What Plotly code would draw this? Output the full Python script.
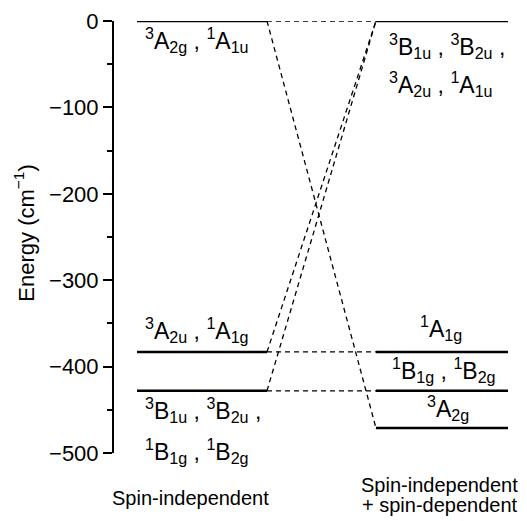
import plotly.graph_objects as go

# ---- data ----
left_energies = [0, -383, -428]            # spin-independent levels (cm^-1)
right_energies = [0, -383, -428, -471]     # spin-independent + spin-dependent levels
# connections: (left level index, right level index)
connections = [(0, 0), (0, 3), (1, 0), (2, 0), (1, 1), (2, 2)]
left_labels = ["<sup>3</sup>A<sub>2g</sub> , <sup>1</sup>A<sub>1u</sub>",
               "<sup>3</sup>A<sub>2u</sub> , <sup>1</sup>A<sub>1g</sub>",
               "<sup>3</sup>B<sub>1u</sub> , <sup>3</sup>B<sub>2u</sub> ,",
               "<sup>1</sup>B<sub>1g</sub> , <sup>1</sup>B<sub>2g</sub>"]
right_labels = ["<sup>3</sup>B<sub>1u</sub> , <sup>3</sup>B<sub>2u</sub> ,",
                "<sup>3</sup>A<sub>2u</sub> , <sup>1</sup>A<sub>1u</sub>",
                "<sup>1</sup>A<sub>1g</sub>",
                "<sup>1</sup>B<sub>1g</sub> , <sup>1</sup>B<sub>2g</sub>",
                "<sup>3</sup>A<sub>2g</sub>"]
column_titles = ["Spin-independent", "Spin-independent", "+ spin-dependent"]
y_ticks = [0, -100, -200, -300, -400, -500]

# ---- layout constants ----
LX0, LX1 = 0.0, 1.0
RX0, RX1 = 1.838, 2.854
FONT = "Liberation Sans, Arial, Helvetica, sans-serif"
PX_PER_UNIT = 432 / 500.0  # vertical pixels per cm^-1

fig = go.Figure()

# dashed connectors
for li, ri in connections:
    fig.add_trace(go.Scatter(x=[LX1, RX0], y=[left_energies[li], right_energies[ri]],
                             mode="lines", line=dict(color="black", width=1.3, dash="5px,4px"),
                             hoverinfo="skip", showlegend=False))
# levels
for e in left_energies:
    fig.add_trace(go.Scatter(x=[LX0, LX1], y=[e, e], mode="lines",
                             line=dict(color="black", width=2.5), hoverinfo="skip", showlegend=False))
for e in right_energies:
    fig.add_trace(go.Scatter(x=[RX0, RX1], y=[e, e], mode="lines",
                             line=dict(color="black", width=2.5), hoverinfo="skip", showlegend=False))

def ann(x, y, text, xanchor="left", size=23, **kw):
    fig.add_annotation(x=x, y=y, text=text, showarrow=False, xanchor=xanchor, yanchor="middle",
                       font=dict(family=FONT, size=size, color="black"), **kw)

def off(level, px):
    """level energy shifted by px pixels (positive = downwards)"""
    return level - px / PX_PER_UNIT

# level labels
ann(0.046, off(left_energies[0], 19), left_labels[0])
ann(0.046, off(left_energies[1], -22), left_labels[1])
ann(0.046, off(left_energies[2], 19), left_labels[2])
ann(0.046, off(left_energies[2], 60), left_labels[3])
ann(1.923, off(right_energies[0], 25), right_labels[0])
ann(1.923, off(right_energies[0], 63), right_labels[1])
ann(2.34, off(right_energies[1], -24), right_labels[2], xanchor="center")
ann(1.946, off(right_energies[2], -21), right_labels[3])
ann(2.39, off(right_energies[3], -20), right_labels[4], xanchor="center")

# column titles
ann(0.415, -0.105, column_titles[0], xanchor="center", size=20, yref="paper")
ann(2.33, -0.073, column_titles[1], xanchor="center", size=20, yref="paper")
ann(2.33, -0.1215, column_titles[2], xanchor="center", size=20, yref="paper")

# y-axis title
fig.add_annotation(x=-0.218, y=0.51, xref="paper", yref="paper", text="Energy (cm<sup>−1</sup>)",
                   textangle=-90, showarrow=False, xanchor="center", yanchor="middle",
                   font=dict(family=FONT, size=22, color="black"))

fig.update_layout(
    width=527, height=521,
    margin=dict(l=114, r=0, t=21, b=68),
    paper_bgcolor="white", plot_bgcolor="white",
    showlegend=False,
    xaxis=dict(range=[-0.177, 3.0], visible=False, showgrid=False, zeroline=False),
    yaxis=dict(range=[-500, 0], showgrid=False, zeroline=False, showline=True,
               linecolor="black", linewidth=2, ticks="outside", ticklen=9, tickwidth=2,
               tickcolor="black", tickvals=y_ticks,
               ticktext=[str(v).replace("-", "−") for v in y_ticks],
               tickfont=dict(family=FONT, size=22, color="black"),
               minor=dict(ticks="outside", ticklen=5, tickwidth=2, tickcolor="black", dtick=50)),
)

fig.write_html("out.html")
